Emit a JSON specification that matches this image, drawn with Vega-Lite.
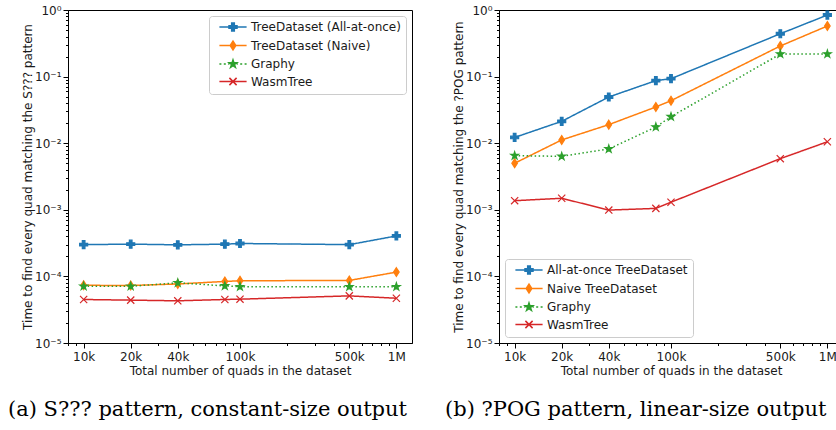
{
  "$schema": "https://vega.github.io/schema/vega-lite/v6.json",
  "padding": {"left": 7, "top": 3, "right": 0, "bottom": 0},
  "background": "white",
  "spacing": 87,
  "bounds": "flush",
  "config": {
    "view": {"stroke": "#000000", "strokeWidth": 1},
    "axis": {"grid": false, "labelFont": "DejaVu Sans", "titleFont": "DejaVu Sans", "labelFontSize": 12, "titleFontSize": 12, "titleFontWeight": "normal", "labelColor": "#1a1a1a", "titleColor": "#1a1a1a", "tickColor": "#000000", "domainColor": "#000000"},
    "legend": {"labelFont": "DejaVu Sans", "labelFontSize": 12, "labelColor": "#1a1a1a"},
    "title": {"font": "DejaVu Serif", "fontSize": 21, "fontWeight": "normal", "color": "#000000"}
  },
  "datasets": {
    "left": [
      {"s": "TreeDataset (All-at-once)", "n": 10000, "t": 0.000300},
      {"s": "TreeDataset (All-at-once)", "n": 20000, "t": 0.000305},
      {"s": "TreeDataset (All-at-once)", "n": 40000, "t": 0.000298},
      {"s": "TreeDataset (All-at-once)", "n": 80000, "t": 0.000305},
      {"s": "TreeDataset (All-at-once)", "n": 100000, "t": 0.000312},
      {"s": "TreeDataset (All-at-once)", "n": 500000, "t": 0.000300},
      {"s": "TreeDataset (All-at-once)", "n": 1000000, "t": 0.000405},
      {"s": "TreeDataset (Naive)", "n": 10000, "t": 0.0000735},
      {"s": "TreeDataset (Naive)", "n": 20000, "t": 0.0000730},
      {"s": "TreeDataset (Naive)", "n": 40000, "t": 0.0000770},
      {"s": "TreeDataset (Naive)", "n": 80000, "t": 0.0000840},
      {"s": "TreeDataset (Naive)", "n": 100000, "t": 0.0000860},
      {"s": "TreeDataset (Naive)", "n": 500000, "t": 0.0000870},
      {"s": "TreeDataset (Naive)", "n": 1000000, "t": 0.000116},
      {"s": "Graphy", "n": 10000, "t": 0.0000710},
      {"s": "Graphy", "n": 20000, "t": 0.0000710},
      {"s": "Graphy", "n": 40000, "t": 0.0000800},
      {"s": "Graphy", "n": 80000, "t": 0.0000720},
      {"s": "Graphy", "n": 100000, "t": 0.0000700},
      {"s": "Graphy", "n": 500000, "t": 0.0000700},
      {"s": "Graphy", "n": 1000000, "t": 0.0000700},
      {"s": "WasmTree", "n": 10000, "t": 0.0000450},
      {"s": "WasmTree", "n": 20000, "t": 0.0000440},
      {"s": "WasmTree", "n": 40000, "t": 0.0000430},
      {"s": "WasmTree", "n": 80000, "t": 0.0000450},
      {"s": "WasmTree", "n": 100000, "t": 0.0000455},
      {"s": "WasmTree", "n": 500000, "t": 0.0000510},
      {"s": "WasmTree", "n": 1000000, "t": 0.0000470}
    ],
    "right": [
      {"s": "All-at-once TreeDataset", "n": 10000, "t": 0.0122},
      {"s": "All-at-once TreeDataset", "n": 20000, "t": 0.0213},
      {"s": "All-at-once TreeDataset", "n": 40000, "t": 0.0494},
      {"s": "All-at-once TreeDataset", "n": 80000, "t": 0.087},
      {"s": "All-at-once TreeDataset", "n": 100000, "t": 0.093},
      {"s": "All-at-once TreeDataset", "n": 500000, "t": 0.44},
      {"s": "All-at-once TreeDataset", "n": 1000000, "t": 0.84},
      {"s": "Naive TreeDataset", "n": 10000, "t": 0.0050},
      {"s": "Naive TreeDataset", "n": 20000, "t": 0.0112},
      {"s": "Naive TreeDataset", "n": 40000, "t": 0.019},
      {"s": "Naive TreeDataset", "n": 80000, "t": 0.035},
      {"s": "Naive TreeDataset", "n": 100000, "t": 0.0435},
      {"s": "Naive TreeDataset", "n": 500000, "t": 0.288},
      {"s": "Naive TreeDataset", "n": 1000000, "t": 0.575},
      {"s": "Graphy", "n": 10000, "t": 0.0065},
      {"s": "Graphy", "n": 20000, "t": 0.00635},
      {"s": "Graphy", "n": 40000, "t": 0.0082},
      {"s": "Graphy", "n": 80000, "t": 0.0175},
      {"s": "Graphy", "n": 100000, "t": 0.025},
      {"s": "Graphy", "n": 500000, "t": 0.218},
      {"s": "Graphy", "n": 1000000, "t": 0.218},
      {"s": "WasmTree", "n": 10000, "t": 0.00137},
      {"s": "WasmTree", "n": 20000, "t": 0.00149},
      {"s": "WasmTree", "n": 40000, "t": 0.00099},
      {"s": "WasmTree", "n": 80000, "t": 0.00105},
      {"s": "WasmTree", "n": 100000, "t": 0.0013},
      {"s": "WasmTree", "n": 500000, "t": 0.00586},
      {"s": "WasmTree", "n": 1000000, "t": 0.0105}
    ]
  },
  "hconcat": [
    {
      "width": 344,
      "height": 333,
      "data": {"name": "left"},
      "title": {"text": "(a) S??? pattern, constant-size output", "orient": "bottom", "anchor": "start", "frame": "group", "dx": -60, "offset": 23},
      "resolve": {"axis": {"x": "independent", "y": "independent"}},
      "layer": [
        {
          "mark": {"type": "line", "strokeWidth": 1.5},
          "encoding": {
            "x": {"field": "n", "type": "quantitative", "scale": {"type": "log", "domain": [7943, 1258925], "nice": false},
              "axis": {"orient": "bottom", "values": [8000, 9000, 30000, 50000, 60000, 70000, 80000, 90000, 200000, 300000, 400000, 600000, 700000, 800000, 900000], "labels": false, "domain": false, "tickSize": 2.5, "title": null}},
            "y": {"field": "t", "type": "quantitative", "scale": {"type": "log", "domain": [0.00001, 1], "nice": false},
              "axis": {"orient": "left", "values": [0.00002, 0.00003, 0.00004, 0.00005, 0.00006, 0.00007, 0.00008, 0.00009, 0.0002, 0.0003, 0.0004, 0.0005, 0.0006, 0.0007, 0.0008, 0.0009, 0.002, 0.003, 0.004, 0.005, 0.006, 0.007, 0.008, 0.009, 0.02, 0.03, 0.04, 0.05, 0.06, 0.07, 0.08, 0.09, 0.2, 0.3, 0.4, 0.5, 0.6, 0.7, 0.8, 0.9], "labels": false, "domain": false, "tickSize": 2.5, "title": null}},
            "color": {"field": "s", "type": "nominal", "scale": {"domain": ["TreeDataset (All-at-once)", "TreeDataset (Naive)", "Graphy", "WasmTree", "All-at-once TreeDataset", "Naive TreeDataset"], "range": ["#1f77b4", "#ff7f0e", "#2ca02c", "#d62728", "#1f77b4", "#ff7f0e"]}, "legend": null},
            "strokeDash": {"field": "s", "type": "nominal", "scale": {"domain": ["TreeDataset (All-at-once)", "TreeDataset (Naive)", "Graphy", "WasmTree", "All-at-once TreeDataset", "Naive TreeDataset"], "range": [[1, 0], [1, 0], [1.5, 2.5], [1, 0], [1, 0], [1, 0]]}, "legend": null}
          }
        },
        {
          "mark": {"type": "point", "filled": true, "opacity": 1, "strokeWidth": 1.2, "size": 64},
          "encoding": {
            "x": {"field": "n", "type": "quantitative",
              "axis": {"orient": "bottom", "values": [10000, 20000, 40000, 100000, 500000, 1000000], "labelExpr": "datum.value >= 999999 ? '1M' : format(datum.value / 1000, 'd') + 'k'", "tickSize": 5, "labelPadding": 3, "title": "Total number of quads in the dataset", "titlePadding": 3}},
            "y": {"field": "t", "type": "quantitative",
              "axis": {"orient": "left", "values": [0.00001, 0.0001, 0.001, 0.01, 0.1, 1], "labelExpr": "datum.value > 0.5 ? '10⁰' : datum.value > 0.05 ? '10⁻¹' : datum.value > 0.005 ? '10⁻²' : datum.value > 0.0005 ? '10⁻³' : datum.value > 0.00005 ? '10⁻⁴' : '10⁻⁵'", "tickSize": 5, "labelPadding": 2, "title": "Time to find every quad matching the S??? pattern", "titlePadding": 0}},
            "fill": {"field": "s", "type": "nominal", "scale": {"domain": ["TreeDataset (All-at-once)", "TreeDataset (Naive)", "Graphy", "WasmTree", "All-at-once TreeDataset", "Naive TreeDataset"], "range": ["#1f77b4", "#ff7f0e", "#2ca02c", "#d62728", "#1f77b4", "#ff7f0e"]},
              "legend": {"title": null, "values": ["TreeDataset (All-at-once)", "TreeDataset (Naive)", "Graphy", "WasmTree"], "orient": "top-right", "offset": 6, "padding": 5, "fillColor": "rgba(255,255,255,0.8)", "strokeColor": "#cccccc", "cornerRadius": 3, "symbolSize": 64, "symbolOffset": 13, "labelOffset": 12, "rowPadding": 3.5, "symbolStrokeWidth": 1.5,
                "encoding": {"symbols": {
                  "shape": {"value": {"expr": "indexof(datum.value, 'Graphy') >= 0 ? 'M-3.4,0H-2.9M-2.3,0H-1.8M-1.2,0H-0.9M0.9,0H1.2M1.8,0H2.3M2.9,0H3.4M0,-1L0.2245,-0.309L0.951,-0.309L0.363,0.118L0.588,0.809L0,0.382L-0.588,0.809L-0.363,0.118L-0.951,-0.309L-0.2245,-0.309Z' : indexof(datum.value, 'WasmTree') >= 0 ? 'M-3.4,0H3.4M-0.9,-0.9L0.9,0.9M-0.9,0.9L0.9,-0.9' : indexof(datum.value, 'Naive') >= 0 ? 'M-3.4,0H3.4M0,-1.1L0.7,0L0,1.1L-0.7,0Z' : 'M-3.4,0H3.4M-0.33,-1H0.33V-0.33H1V0.33H0.33V1H-0.33V0.33H-1V-0.33H-0.33Z'"}},
                  "stroke": {"value": {"expr": "indexof(datum.value, 'Graphy') >= 0 ? '#2ca02c' : indexof(datum.value, 'WasmTree') >= 0 ? '#d62728' : indexof(datum.value, 'Naive') >= 0 ? '#ff7f0e' : '#1f77b4'"}},
                  "strokeWidth": {"value": 1.5}
                }}}},
            "stroke": {"field": "s", "type": "nominal", "scale": {"domain": ["TreeDataset (All-at-once)", "TreeDataset (Naive)", "Graphy", "WasmTree", "All-at-once TreeDataset", "Naive TreeDataset"], "range": ["#1f77b4", "#ff7f0e", "#2ca02c", "#d62728", "#1f77b4", "#ff7f0e"]}},
            "shape": {"field": "s", "type": "nominal", "scale": {"domain": ["TreeDataset (All-at-once)", "TreeDataset (Naive)", "Graphy", "WasmTree", "All-at-once TreeDataset", "Naive TreeDataset"], "range": ["M-0.33,-1H0.33V-0.33H1V0.33H0.33V1H-0.33V0.33H-1V-0.33H-0.33Z", "M0,-1.1L0.7,0L0,1.1L-0.7,0Z", "M0,-1L0.2245,-0.309L0.951,-0.309L0.363,0.118L0.588,0.809L0,0.382L-0.588,0.809L-0.363,0.118L-0.951,-0.309L-0.2245,-0.309Z", "M-0.9,-0.9L0.9,0.9M-0.9,0.9L0.9,-0.9", "M-0.33,-1H0.33V-0.33H1V0.33H0.33V1H-0.33V0.33H-1V-0.33H-0.33Z", "M0,-1.1L0.7,0L0,1.1L-0.7,0Z"]}}
          }
        }
      ]
    },
    {
      "width": 344,
      "height": 333,
      "data": {"name": "right"},
      "title": {"text": "(b) ?POG pattern, linear-size output", "orient": "bottom", "anchor": "start", "frame": "group", "dx": -54, "offset": 23},
      "resolve": {"axis": {"x": "independent", "y": "independent"}},
      "layer": [
        {
          "mark": {"type": "line", "strokeWidth": 1.5},
          "encoding": {
            "x": {"field": "n", "type": "quantitative", "scale": {"type": "log", "domain": [7943, 1258925], "nice": false},
              "axis": {"orient": "bottom", "values": [8000, 9000, 30000, 50000, 60000, 70000, 80000, 90000, 200000, 300000, 400000, 600000, 700000, 800000, 900000], "labels": false, "domain": false, "tickSize": 2.5, "title": null}},
            "y": {"field": "t", "type": "quantitative", "scale": {"type": "log", "domain": [0.00001, 1], "nice": false},
              "axis": {"orient": "left", "values": [0.00002, 0.00003, 0.00004, 0.00005, 0.00006, 0.00007, 0.00008, 0.00009, 0.0002, 0.0003, 0.0004, 0.0005, 0.0006, 0.0007, 0.0008, 0.0009, 0.002, 0.003, 0.004, 0.005, 0.006, 0.007, 0.008, 0.009, 0.02, 0.03, 0.04, 0.05, 0.06, 0.07, 0.08, 0.09, 0.2, 0.3, 0.4, 0.5, 0.6, 0.7, 0.8, 0.9], "labels": false, "domain": false, "tickSize": 2.5, "title": null}},
            "color": {"field": "s", "type": "nominal", "scale": {"domain": ["TreeDataset (All-at-once)", "TreeDataset (Naive)", "Graphy", "WasmTree", "All-at-once TreeDataset", "Naive TreeDataset"], "range": ["#1f77b4", "#ff7f0e", "#2ca02c", "#d62728", "#1f77b4", "#ff7f0e"]}, "legend": null},
            "strokeDash": {"field": "s", "type": "nominal", "scale": {"domain": ["TreeDataset (All-at-once)", "TreeDataset (Naive)", "Graphy", "WasmTree", "All-at-once TreeDataset", "Naive TreeDataset"], "range": [[1, 0], [1, 0], [1.5, 2.5], [1, 0], [1, 0], [1, 0]]}, "legend": null}
          }
        },
        {
          "mark": {"type": "point", "filled": true, "opacity": 1, "strokeWidth": 1.2, "size": 64},
          "encoding": {
            "x": {"field": "n", "type": "quantitative",
              "axis": {"orient": "bottom", "values": [10000, 20000, 40000, 100000, 500000, 1000000], "labelExpr": "datum.value >= 999999 ? '1M' : format(datum.value / 1000, 'd') + 'k'", "tickSize": 5, "labelPadding": 3, "title": "Total number of quads in the dataset", "titlePadding": 3}},
            "y": {"field": "t", "type": "quantitative",
              "axis": {"orient": "left", "values": [0.00001, 0.0001, 0.001, 0.01, 0.1, 1], "labelExpr": "datum.value > 0.5 ? '10⁰' : datum.value > 0.05 ? '10⁻¹' : datum.value > 0.005 ? '10⁻²' : datum.value > 0.0005 ? '10⁻³' : datum.value > 0.00005 ? '10⁻⁴' : '10⁻⁵'", "tickSize": 5, "labelPadding": 2, "title": "Time to find every quad matching the ?POG pattern", "titlePadding": 0}},
            "fill": {"field": "s", "type": "nominal", "scale": {"domain": ["TreeDataset (All-at-once)", "TreeDataset (Naive)", "Graphy", "WasmTree", "All-at-once TreeDataset", "Naive TreeDataset"], "range": ["#1f77b4", "#ff7f0e", "#2ca02c", "#d62728", "#1f77b4", "#ff7f0e"]},
              "legend": {"title": null, "values": ["All-at-once TreeDataset", "Naive TreeDataset", "Graphy", "WasmTree"], "orient": "bottom-left", "offset": 6, "padding": 5, "fillColor": "rgba(255,255,255,0.8)", "strokeColor": "#cccccc", "cornerRadius": 3, "symbolSize": 64, "symbolOffset": 13, "labelOffset": 12, "rowPadding": 3.5, "symbolStrokeWidth": 1.5,
                "encoding": {"symbols": {
                  "shape": {"value": {"expr": "indexof(datum.value, 'Graphy') >= 0 ? 'M-3.4,0H-2.9M-2.3,0H-1.8M-1.2,0H-0.9M0.9,0H1.2M1.8,0H2.3M2.9,0H3.4M0,-1L0.2245,-0.309L0.951,-0.309L0.363,0.118L0.588,0.809L0,0.382L-0.588,0.809L-0.363,0.118L-0.951,-0.309L-0.2245,-0.309Z' : indexof(datum.value, 'WasmTree') >= 0 ? 'M-3.4,0H3.4M-0.9,-0.9L0.9,0.9M-0.9,0.9L0.9,-0.9' : indexof(datum.value, 'Naive') >= 0 ? 'M-3.4,0H3.4M0,-1.1L0.7,0L0,1.1L-0.7,0Z' : 'M-3.4,0H3.4M-0.33,-1H0.33V-0.33H1V0.33H0.33V1H-0.33V0.33H-1V-0.33H-0.33Z'"}},
                  "stroke": {"value": {"expr": "indexof(datum.value, 'Graphy') >= 0 ? '#2ca02c' : indexof(datum.value, 'WasmTree') >= 0 ? '#d62728' : indexof(datum.value, 'Naive') >= 0 ? '#ff7f0e' : '#1f77b4'"}},
                  "strokeWidth": {"value": 1.5}
                }}}},
            "stroke": {"field": "s", "type": "nominal", "scale": {"domain": ["TreeDataset (All-at-once)", "TreeDataset (Naive)", "Graphy", "WasmTree", "All-at-once TreeDataset", "Naive TreeDataset"], "range": ["#1f77b4", "#ff7f0e", "#2ca02c", "#d62728", "#1f77b4", "#ff7f0e"]}},
            "shape": {"field": "s", "type": "nominal", "scale": {"domain": ["TreeDataset (All-at-once)", "TreeDataset (Naive)", "Graphy", "WasmTree", "All-at-once TreeDataset", "Naive TreeDataset"], "range": ["M-0.33,-1H0.33V-0.33H1V0.33H0.33V1H-0.33V0.33H-1V-0.33H-0.33Z", "M0,-1.1L0.7,0L0,1.1L-0.7,0Z", "M0,-1L0.2245,-0.309L0.951,-0.309L0.363,0.118L0.588,0.809L0,0.382L-0.588,0.809L-0.363,0.118L-0.951,-0.309L-0.2245,-0.309Z", "M-0.9,-0.9L0.9,0.9M-0.9,0.9L0.9,-0.9", "M-0.33,-1H0.33V-0.33H1V0.33H0.33V1H-0.33V0.33H-1V-0.33H-0.33Z", "M0,-1.1L0.7,0L0,1.1L-0.7,0Z"]}}
          }
        }
      ]
    }
  ]
}
